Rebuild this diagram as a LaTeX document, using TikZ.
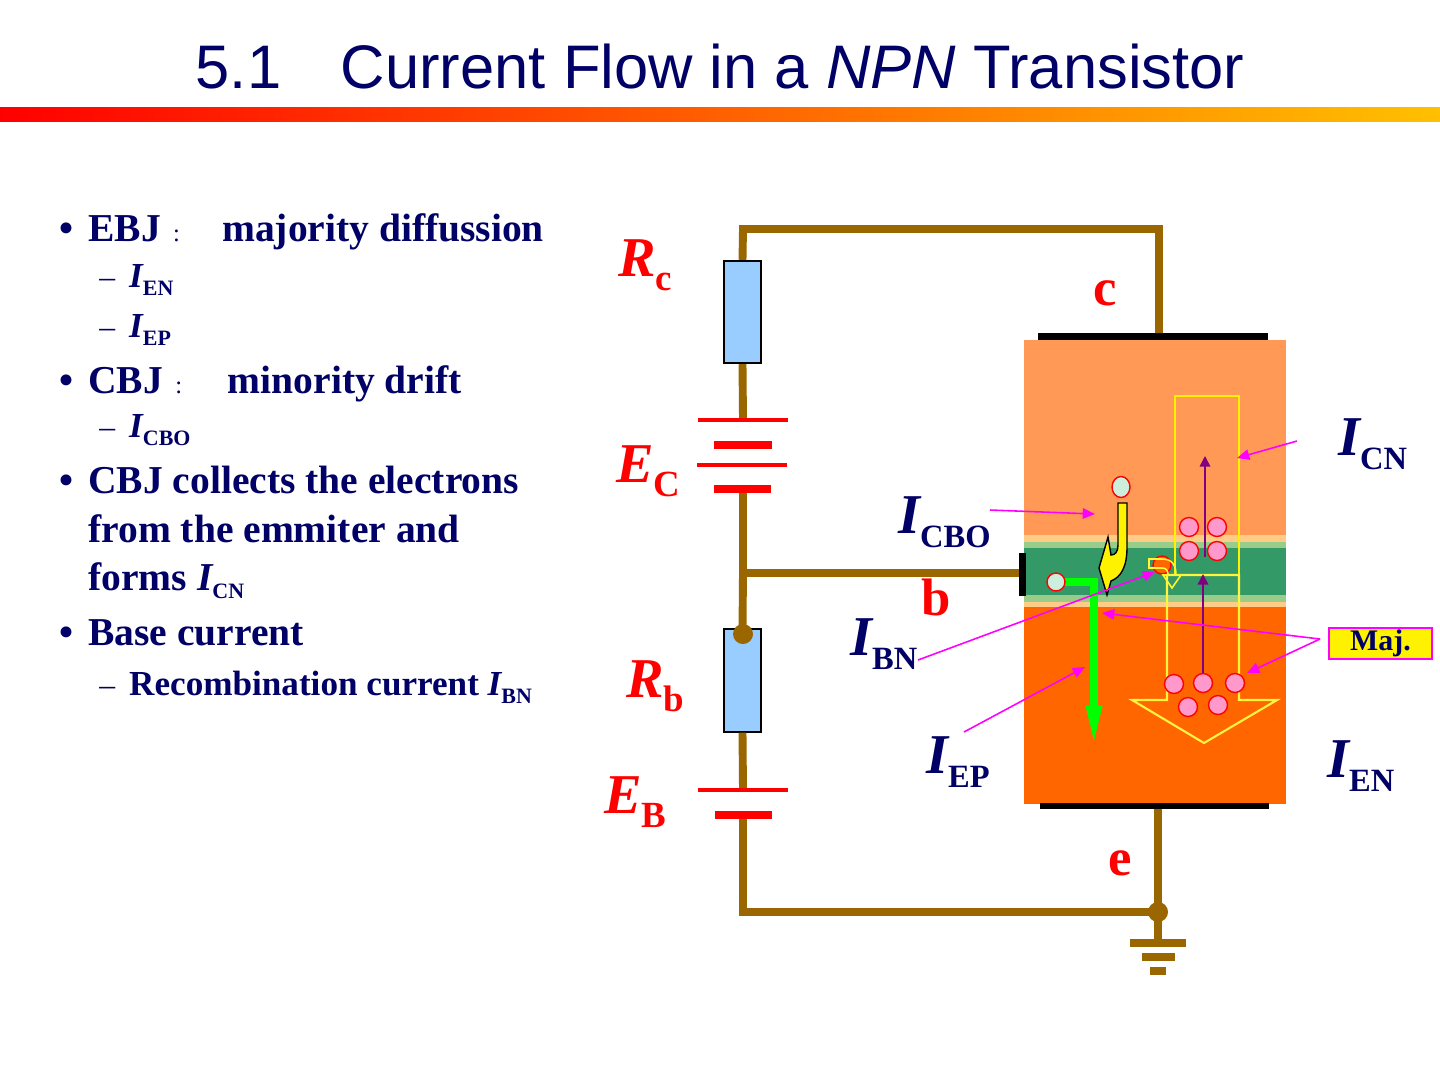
\documentclass[tikz,border=0pt]{standalone}
\usepackage{fontspec}
\setmainfont{Liberation Serif}
\newfontfamily\headfont{Liberation Sans}
\usetikzlibrary{arrows.meta, calc, shapes, shapes.geometric, positioning}
\definecolor{navy}{RGB}{0,0,102}
\definecolor{wire}{RGB}{153,102,0}
\definecolor{resfill}{RGB}{153,204,255}
\definecolor{colreg}{RGB}{255,153,85}
\definecolor{emreg}{RGB}{255,102,0}
\definecolor{basereg}{RGB}{51,153,102}
\definecolor{lgreen}{RGB}{153,204,136}
\definecolor{tanband}{RGB}{255,204,136}
\definecolor{hole}{RGB}{255,153,204}
\definecolor{mint}{RGB}{204,238,221}
\definecolor{purp}{RGB}{128,0,128}
\definecolor{mag}{RGB}{255,0,255}
\definecolor{gold}{RGB}{255,192,0}
\definecolor{flow}{RGB}{0,255,0}
\newcommand{\redsub}[1]{\raisebox{-8pt}{\upshape\fontsize{21}{21}\selectfont #1}}
\newcommand{\cursub}[1]{\raisebox{-8pt}{\upshape\fontsize{18.5}{18.5}\selectfont #1}}
\newcommand{\txtsub}[1]{\raisebox{-5pt}{\upshape\fontsize{12.5}{12.5}\selectfont #1}}
\newcommand{\subdash}{{\mdseries\fontsize{18}{18}\selectfont –}\hspace{8pt}}

\begin{document}
\begin{tikzpicture}[x=0.02cm, y=-0.02cm, every node/.style={inner sep=0pt},
    wire/.style={draw=wire, line width=4.5pt},
    res/.style={draw=black, fill=resfill, line width=1.1pt, minimum width=0.74cm, minimum height=2.05cm},
    cellthin/.style={draw=red, line width=2.3pt},
    cellthick/.style={draw=red, line width=4.5pt},
    joint/.style={circle, fill=wire, minimum size=0.4cm},
    redlbl/.style={anchor=base west, text=red, font=\bfseries\itshape\fontsize{32}{32}\selectfont},
    termlbl/.style={anchor=base, text=red, font=\bfseries\fontsize{30}{30}\selectfont},
    curlbl/.style={anchor=base west, text=navy, font=\bfseries\itshape\fontsize{32}{32}\selectfont},
    bullet/.style={anchor=base west, text=navy, font=\fontsize{26}{26}\selectfont},
    item/.style={anchor=base west, text=navy, font=\bfseries\fontsize{22.5}{27}\selectfont},
    subitem/.style={anchor=base west, text=navy, font=\bfseries\fontsize{20}{24}\selectfont},
    carrier/.style={circle, draw=red, line width=0.8pt, fill=hole, minimum size=0.38cm},
    minor/.style={ellipse, draw=red, line width=0.8pt, fill=mint, minimum width=0.36cm, minimum height=0.42cm},
    pointer/.style={draw=mag, line width=0.9pt, -{Triangle[length=7pt,width=6pt]}},
    drift/.style={draw=purp, line width=0.9pt, -{Triangle[length=6pt,width=6pt]}},
    greenflow/.style={draw=flow, line width=4.5pt, -{Triangle[length=24pt,width=8pt]}}]
    \useasboundingbox (0,0) rectangle (1440,1080);
    \fill[white] (0,0) rectangle (1440,1080);

    % title and bar
    \node[anchor=base, text=navy, font=\headfont\fontsize{35}{40}\selectfont] (title) at (720,88)
        {5.1\hspace{34pt}Current Flow in a \textit{NPN} Transistor};
    \shade[left color=red, middle color=orange, right color=gold] (0,107) rectangle (1440,121);

    % left text
    \node[bullet] (d1) at (58,243) {•};
    \node[item] (t1) at (88,241) {EBJ\hspace{7pt}{\mdseries\fontsize{14}{14}\selectfont :}\hspace{24pt}majority diffussion};
    \node[subitem] (s1) at (99,287) {\subdash{\itshape I}\txtsub{EN}};
    \node[subitem] (s2) at (99,337) {\subdash{\itshape I}\txtsub{EP}};
    \node[bullet] (d2) at (58,395) {•};
    \node[item] (t2) at (88,393) {CBJ\hspace{7pt}{\mdseries\fontsize{14}{14}\selectfont :}\hspace{26pt}minority drift};
    \node[subitem] (s3) at (99,437) {\subdash{\itshape I}\txtsub{CBO}};
    \node[bullet] (d3) at (58,495) {•};
    \node[item] (t3) at (88,493) {CBJ collects the electrons};
    \node[item] (t4) at (88,542) {from the emmiter and};
    \node[item] (t5) at (88,590) {forms {\itshape I}\txtsub{CN}};
    \node[bullet] (d4) at (58,647) {•};
    \node[item] (t6) at (88,645) {Base current};
    \node[subitem] (s4) at (99,695) {\subdash Recombination current {\itshape I}\txtsub{BN}};

    % transistor body
    \fill[colreg] (1024,340) rectangle (1286,535);
    \fill[tanband] (1024,535) rectangle (1286,542);
    \fill[lgreen] (1024,542) rectangle (1286,548);
    \fill[basereg] (1024,548) rectangle (1286,595);
    \fill[lgreen] (1024,595) rectangle (1286,602);
    \fill[tanband] (1024,602) rectangle (1286,607);
    \fill[emreg] (1024,607) rectangle (1286,804);
    \fill[black] (1038,333) rectangle (1268,340);
    \fill[black] (1040,803) rectangle (1269,809);
    \fill[black] (1019,553) rectangle (1026,596);

    % collected electrons (hollow arrows)
    \draw[yellow, line width=1.2pt] (1175,396) rectangle (1239,575);
    \draw[yellow!75!white, line width=1.2pt] (1167,575) -- (1239,575) -- (1239,700) -- (1277,700)
        -- (1204,743) -- (1132,700) -- (1167,700) -- cycle;

    % carriers
    \foreach \x/\y [count=\i] in {1189/527,1217/527,1189/551,1217/551,1174/684,1203/683,1235/683,1188/707,1218/705}
        \node[carrier] (h\i) at (\x,\y) {};
    \coordinate (upFoot) at (1205,557);
    \coordinate (upTip) at (1205,456);
    \coordinate (lowTip) at (1203,574);
    \draw[drift] (upFoot) -- (upTip);
    \draw[drift] (h6.north) -- (lowTip);

    % minority and recombination
    \node[minor] (m1) at (1121,487) {};
    \draw[fill=yellow, draw=black, line width=0.8pt] (1118,503) -- (1127,503) -- (1127,547)
        .. controls (1127,567) and (1121,577) .. (1111,581) -- (1107,595) -- (1099,568) -- (1108,537)
        -- (1111,555) .. controls (1115,555) and (1118,552) .. (1118,545) -- cycle;
    \node[circle, draw=red, line width=0.8pt, fill=emreg, minimum size=0.36cm] (rec) at (1162,565) {};
    \draw[yellow!80!white, line width=0.9pt] (1149,559) -- (1162,559) .. controls (1172,559) and (1176,565) .. (1176,575)
        -- (1181,575) -- (1172,588) -- (1163,575) -- (1168,575) .. controls (1168,570) and (1166,568) .. (1162,568)
        -- (1149,568) -- cycle;
    \coordinate (epBend) at (1094,582);
    \coordinate (epTip) at (1094,748);
    \draw[greenflow] (1056,582) -- (epBend) -- (epTip);
    \node[minor, minimum height=0.36cm] (m2) at (1056,582) {};

    % circuit
    \node[res] (Rc) at (742.5,312) {};
    \node[res] (Rb) at (742.5,680.5) {};
    \coordinate (tl) at (743,229);
    \coordinate (tr) at (1159,229);
    \coordinate (cpin) at (1159,333);
    \coordinate (ecTop) at (743,420);
    \coordinate (ecBot) at (743,489);
    \coordinate (bj) at (743,573);
    \coordinate (bpin) at (1019,573);
    \coordinate (ebTop) at (743,790);
    \coordinate (ebBot) at (743,815);
    \coordinate (bl) at (743,912);
    \coordinate (br) at (1158,912);
    \coordinate (epin) at (1158,809);
    \coordinate (gnd) at (1158,943);
    \draw[wire] (Rc.north) -- (tl) -- (tr) -- (cpin);
    \draw[wire] (Rc.south) -- (ecTop);
    \draw[wire] (ecBot) -- (bj) -- (Rb.north);
    \draw[wire] (bj) -- (bpin);
    \draw[wire] (Rb.south) -- (ebTop);
    \draw[wire] (ebBot) -- (bl) -- (br) -- (epin);
    \draw[wire] (br) -- (gnd);
    \node[joint] (jb) at (743,634) {};
    \node[joint] (je) at (1158,912) {};
    \draw[cellthin] (698,420) -- (788,420);
    \draw[cellthick] (714,445) -- (772,445);
    \draw[cellthin] (697,465) -- (787,465);
    \draw[cellthick] (714,489) -- (771,489);
    \draw[cellthin] (698,790) -- (788,790);
    \draw[cellthick] (715,815) -- (772,815);
    \foreach \y/\w in {943/28, 957/16.5, 971/8}
        \draw[wire] (1158-\w,\y) -- (1158+\w,\y);

    % circuit labels
    \node[redlbl] (Rclbl) at (618,276) {R\redsub{c}};
    \node[redlbl] (EClbl) at (616,482) {E\redsub{C}};
    \node[redlbl] (Rblbl) at (626,697) {R\redsub{b}};
    \node[redlbl] (EBlbl) at (604,813) {E\redsub{B}};
    \node[termlbl] (clbl) at (1105,305) {c};
    \node[termlbl] (blbl) at (936,615) {b};
    \node[termlbl] (elbl) at (1120,875) {e};

    % current labels
    \node[curlbl] (ICN) at (1338,455) {I\cursub{CN}};
    \node[curlbl] (ICBO) at (898,533) {I\cursub{CBO}};
    \node[curlbl] (IBN) at (850,655) {I\cursub{BN}};
    \node[curlbl] (IEP) at (926,773) {I\cursub{EP}};
    \node[curlbl] (IEN) at (1327,777) {I\cursub{EN}};
    \node[draw=mag, fill=yellow, line width=1pt, minimum width=2.06cm, minimum height=0.62cm,
        text=navy, font=\bfseries\fontsize{17}{17}\selectfont] (maj) at (1380.5,643.5) {Maj.};

    % pointers
    \coordinate (fCN) at (1297,441);
    \coordinate (aCN) at (1237,458);
    \coordinate (fCBO) at (990,510);
    \coordinate (aCBO) at (1095,514);
    \coordinate (fBN) at (918,660);
    \coordinate (fEP) at (964,732);
    \coordinate (aEP) at (1085,667);
    \coordinate (fMaj) at (1320,639);
    \coordinate (aMaj1) at (1102,613);
    \coordinate (aMaj2) at (1247,673);
    \draw[pointer] (fCN) -- (aCN);
    \draw[pointer] (fCBO) -- (aCBO);
    \draw[pointer] (fBN) -- (rec.south west);
    \draw[pointer] (fEP) -- (aEP);
    \draw[pointer] (fMaj) -- (aMaj1);
    \draw[pointer] (fMaj) -- (aMaj2);
\end{tikzpicture}
\end{document}
